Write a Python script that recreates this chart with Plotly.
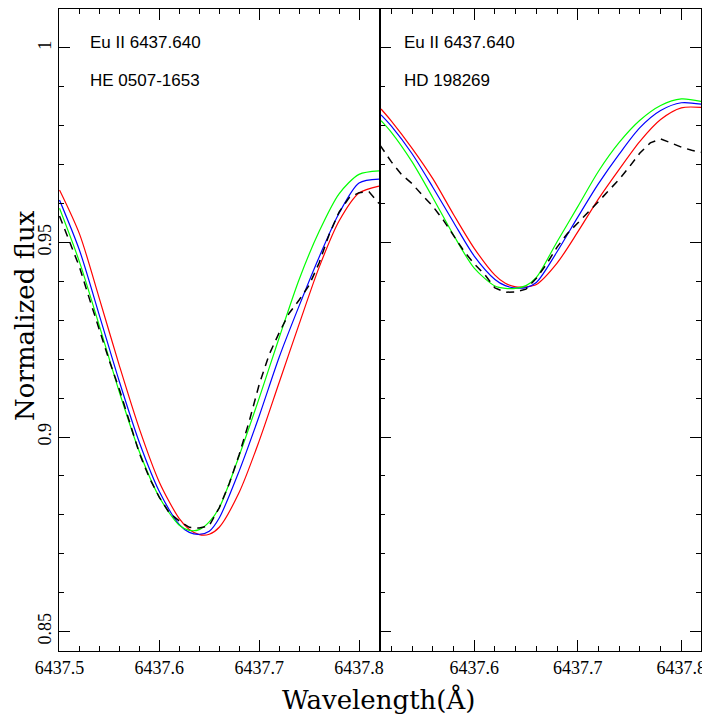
import plotly.graph_objects as go

# ---------------- data ----------------
# Left panel: HE 0507-1653
wl_syn_L = [6437.50, 6437.52, 6437.54, 6437.56, 6437.58, 6437.60, 6437.62, 6437.63,
            6437.64, 6437.65, 6437.66, 6437.68, 6437.70, 6437.72, 6437.74, 6437.76,
            6437.78, 6437.80, 6437.82]
red_L   = [0.9635, 0.9522, 0.9355, 0.9183, 0.9021, 0.8884, 0.8790, 0.8762,
           0.8749, 0.8750, 0.8768, 0.8858, 0.8990, 0.9140, 0.9290, 0.9436,
           0.9555, 0.9627, 0.9645]
blue_L  = [0.9609, 0.9480, 0.9312, 0.9142, 0.8986, 0.8860, 0.8775, 0.8755,
           0.8750, 0.8758, 0.8792, 0.8913, 0.9054, 0.9205, 0.9337, 0.9462,
           0.9575, 0.9653, 0.9663]
green_L = [0.9588, 0.9450, 0.9285, 0.9115, 0.8962, 0.8845, 0.8773, 0.8760,
           0.8762, 0.8782, 0.8818, 0.8952, 0.9100, 0.9255, 0.9405, 0.9528,
           0.9625, 0.9675, 0.9684]

wl_obs_L = [6437.50, 6437.51, 6437.52, 6437.53, 6437.54, 6437.55, 6437.56, 6437.57,
            6437.58, 6437.59, 6437.60, 6437.61, 6437.62, 6437.63, 6437.64, 6437.65,
            6437.66, 6437.67, 6437.68, 6437.69, 6437.70, 6437.71, 6437.72, 6437.73,
            6437.74, 6437.75, 6437.76, 6437.77, 6437.78, 6437.79, 6437.80, 6437.81,
            6437.82]
obs_L = [0.9568, 0.9505, 0.9437, 0.9355, 0.9272, 0.9195, 0.9122, 0.9040,
         0.8958, 0.8895, 0.8845, 0.8805, 0.8784, 0.8768, 0.8766, 0.8772,
         0.8818, 0.8880, 0.8955, 0.9040, 0.9135, 0.9212, 0.9268, 0.9318,
         0.9352, 0.9390, 0.9447, 0.9520, 0.9578, 0.9615, 0.9628, 0.9630,
         0.9600]

# Right panel: HD 198269
wl_syn_R = [6437.51, 6437.52, 6437.54, 6437.56, 6437.58, 6437.60, 6437.62, 6437.63,
            6437.64, 6437.65, 6437.66, 6437.68, 6437.70, 6437.72, 6437.74, 6437.76,
            6437.78, 6437.80, 6437.82]
red_R   = [0.9843, 0.9812, 0.9742, 0.9664, 0.9572, 0.9485, 0.9416, 0.9395,
           0.9386, 0.9386, 0.9392, 0.9447, 0.9527, 0.9612, 0.9688, 0.9760,
           0.9816, 0.9846, 0.9847]
blue_R  = [0.9828, 0.9799, 0.9728, 0.9642, 0.9552, 0.9465, 0.9405, 0.9389,
           0.9383, 0.9384, 0.9397, 0.9476, 0.9565, 0.9651, 0.9727, 0.9795,
           0.9839, 0.9859, 0.9855]
green_R = [0.9813, 0.9783, 0.9707, 0.9615, 0.9519, 0.9434, 0.9388, 0.9382,
           0.9382, 0.9389, 0.9410, 0.9502, 0.9592, 0.9683, 0.9757, 0.9814,
           0.9852, 0.9869, 0.9862]

wl_obs_R = [6437.509, 6437.52, 6437.53, 6437.54, 6437.55, 6437.56, 6437.57, 6437.58,
            6437.59, 6437.60, 6437.61, 6437.62, 6437.63, 6437.64, 6437.65, 6437.66,
            6437.67, 6437.68, 6437.69, 6437.70, 6437.71, 6437.72, 6437.73, 6437.74,
            6437.75, 6437.76, 6437.77, 6437.78, 6437.79, 6437.80, 6437.81, 6437.819]
obs_R = [0.9750, 0.9707, 0.9674, 0.9651, 0.9621, 0.9593, 0.9558, 0.9518,
         0.9478, 0.9445, 0.9418, 0.9383, 0.9372, 0.9373, 0.9380, 0.9408,
         0.9445, 0.9488, 0.9523, 0.9550, 0.9577, 0.9605, 0.9634, 0.9662,
         0.9695, 0.9730, 0.9756, 0.9766, 0.9756, 0.9745, 0.9737, 0.9732]

line_label = "Eu II 6437.640"
star_L = "HE 0507-1653"
star_R = "HD 198269"
x_title = "Wavelength(Å)"
y_title = "Normalized flux"

# ---------------- figure ----------------
fig = go.Figure()

def add_panel(xs, reds, blues, greens, xo, yo, xa, ya):
    for ys, col in ((reds, "#ff0000"), (blues, "#0000ff"), (greens, "#00ff00")):
        fig.add_trace(go.Scatter(x=xs, y=ys, mode="lines", xaxis=xa, yaxis=ya,
                                 line=dict(color=col, width=1.2, shape="spline", smoothing=0.8),
                                 showlegend=False, hoverinfo="skip"))
    fig.add_trace(go.Scatter(x=xo, y=yo, mode="lines", xaxis=xa, yaxis=ya,
                             line=dict(color="black", width=1.5, dash="8px,6px"),
                             showlegend=False, hoverinfo="skip"))

add_panel(wl_syn_L, red_L, blue_L, green_L, wl_obs_L, obs_L, "x", "y")
add_panel(wl_syn_R, red_R, blue_R, green_R, wl_obs_R, obs_R, "x2", "y2")

tickfont = dict(family="Liberation Serif", size=18, color="black")
common_x = dict(showline=True, linecolor="black", linewidth=1.3, mirror="ticks",
                ticks="inside", ticklen=11, tickwidth=1, tickcolor="black",
                tick0=6437.5, dtick=0.1, tickformat=".1f", ticklabeloverflow="allow",
                minor=dict(ticks="inside", ticklen=5, dtick=0.02, tickcolor="black", tickwidth=1),
                showgrid=False, zeroline=False, tickfont=tickfont)
common_y = dict(showline=True, linecolor="black", linewidth=1.3,
                ticks="inside", ticklen=11, tickwidth=1, tickcolor="black",
                tick0=0.85, dtick=0.05, range=[0.845, 1.01],
                minor=dict(ticks="inside", ticklen=5, dtick=0.01, tickcolor="black", tickwidth=1),
                showgrid=False, zeroline=False, tickfont=tickfont)

# page body has an 8px margin: figure is sized/offset so the plot lands where the reference has it
fig.update_layout(
    width=702, height=712,
    margin=dict(l=51, r=9, t=1, b=69),
    paper_bgcolor="white", plot_bgcolor="white",
    xaxis=dict(domain=[0, 0.5], range=[6437.4995, 6437.821], anchor="y", **common_x),
    xaxis2=dict(domain=[0.5, 1.0], range=[6437.509, 6437.819], anchor="y2", **common_x),
    yaxis=dict(domain=[0, 1], anchor="x", mirror=True, tickangle=-90, **common_y),
    yaxis2=dict(domain=[0, 1], anchor="x2", mirror="ticks", showticklabels=False, **common_y),
)

ann_font = dict(family="Liberation Sans", size=17, color="black")
for xd, star in ((0.0452, star_L), (0.5338, star_R)):
    fig.add_annotation(x=xd, y=0.9478, xref="paper", yref="paper", text=line_label,
                       showarrow=False, xanchor="left", yanchor="middle", font=ann_font)
    fig.add_annotation(x=xd, y=0.8879, xref="paper", yref="paper", text=star,
                       showarrow=False, xanchor="left", yanchor="middle", font=ann_font)

title_font = dict(family="DejaVu Serif", size=26, color="black")
fig.add_annotation(x=0.497, y=-0.0763, xref="paper", yref="paper", text=x_title,
                   showarrow=False, xanchor="center", yanchor="middle", font=title_font)
fig.add_annotation(x=-0.053, y=0.5234, xref="paper", yref="paper", text=y_title,
                   showarrow=False, xanchor="center", yanchor="middle", textangle=-90,
                   font=title_font)

fig.write_html("out.html")
